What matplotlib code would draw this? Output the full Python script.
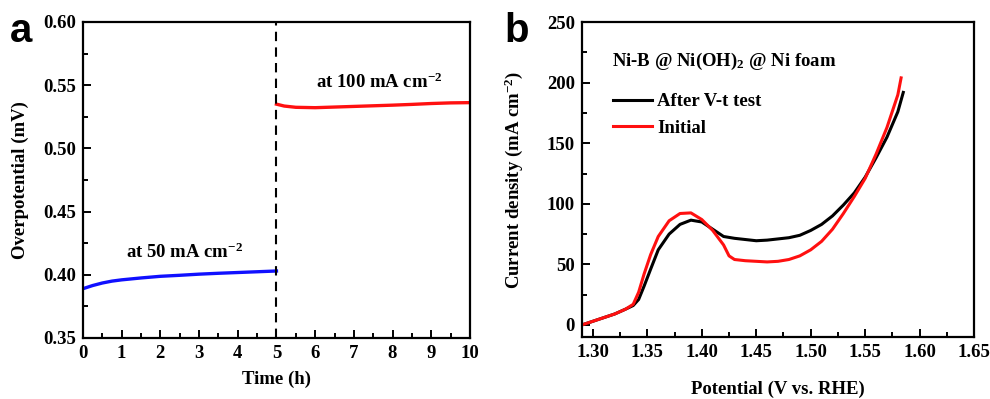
import numpy as np
import matplotlib
matplotlib.use("Agg")
import matplotlib.pyplot as plt
from matplotlib.ticker import MultipleLocator

# Panel a: overpotential vs time (chronopotentiometry)
TIME_LOW = [0.0, 0.1, 0.25, 0.5, 0.75, 1.0, 1.5, 2.0, 2.5, 3.0, 3.5, 4.0, 4.5, 5.0]
ETA_LOW = [0.389, 0.390, 0.3915, 0.3935, 0.395, 0.396, 0.3975, 0.3988, 0.3996, 0.4005,
           0.4012, 0.4018, 0.4024, 0.4030]
TIME_HIGH = [5.0, 5.2, 5.5, 6.0, 6.5, 7.0, 7.5, 8.0, 8.5, 9.0, 9.5, 10.0]
ETA_HIGH = [0.535, 0.5335, 0.5325, 0.5322, 0.5327, 0.5332, 0.5337, 0.5342, 0.5348,
            0.5355, 0.5360, 0.5362]

# Panel b: polarization curves
E_AFTER = [1.290, 1.300, 1.310, 1.320, 1.330, 1.337, 1.342, 1.347, 1.353, 1.360, 1.370,
           1.380, 1.390, 1.400, 1.410, 1.420, 1.430, 1.440, 1.450, 1.460, 1.470, 1.480,
           1.490, 1.500, 1.510, 1.520, 1.530, 1.540, 1.550, 1.560, 1.570, 1.580, 1.585]
J_AFTER = [0, 3, 6, 9, 13, 16, 21, 32, 46, 62, 75, 83, 86.5, 85, 79, 73, 71.5, 70.5, 69.5,
           70, 71, 72, 74, 78, 83, 90, 99, 109, 122, 138, 155, 176, 192]
E_INIT = [1.290, 1.300, 1.310, 1.320, 1.330, 1.337, 1.342, 1.347, 1.353, 1.360, 1.370,
          1.380, 1.390, 1.400, 1.410, 1.420, 1.425, 1.430, 1.440, 1.450, 1.460, 1.470,
          1.480, 1.490, 1.500, 1.510, 1.520, 1.530, 1.540, 1.550, 1.560, 1.570, 1.580,
          1.583]
J_INIT = [0, 3, 6, 9, 13, 17, 27, 42, 58, 73, 86, 92, 92.5, 87, 78, 66, 57, 54, 53, 52.5,
          52, 52.5, 54, 57, 62, 69, 79, 92, 106, 121, 141, 163, 190, 204]

plt.rcParams['font.family'] = 'Liberation Serif'
plt.rcParams['font.weight'] = 'bold'
plt.rcParams['mathtext.fontset'] = 'custom'
plt.rcParams['mathtext.rm'] = 'Liberation Serif:bold'
plt.rcParams['mathtext.it'] = 'Liberation Serif:bold'
plt.rcParams['mathtext.bf'] = 'Liberation Serif:bold'
plt.rcParams['mathtext.default'] = 'rm'
plt.rcParams['axes.linewidth'] = 1.6

FS = 13.5

fig = plt.figure(figsize=(9.9, 3.99), dpi=100)
ax1 = fig.add_axes([0.0838, 0.1529, 0.3909, 0.792])
ax2 = fig.add_axes([0.5879, 0.1554, 0.396, 0.789])


def style_axes(ax):
    ax.tick_params(which='both', direction='in', top=False, right=False,
                   labelsize=FS, width=1.4, pad=5)
    ax.tick_params(which='major', length=6)
    ax.tick_params(which='minor', length=3.5)
    for lbl in ax.get_xticklabels() + ax.get_yticklabels():
        lbl.set_fontweight('bold')


# --- panel a ---
ax1.plot(TIME_LOW, ETA_LOW, color='#1010ff', lw=2.4)
ax1.plot(TIME_HIGH, ETA_HIGH, color='#ff1010', lw=2.4)
ax1.axvline(5, color='black', lw=1.5, ls=(0, (4.5, 3)))
ax1.set_xlim(0, 10)
ax1.set_ylim(0.35, 0.60)
ax1.xaxis.set_major_locator(MultipleLocator(1))
ax1.xaxis.set_minor_locator(MultipleLocator(0.5))
ax1.yaxis.set_major_locator(MultipleLocator(0.05))
ax1.yaxis.set_minor_locator(MultipleLocator(0.025))
ax1.yaxis.set_major_formatter(plt.FormatStrFormatter('%.2f'))
ax1.set_xlabel('Time (h)', fontsize=FS, fontweight='bold', labelpad=6)
ax1.set_ylabel('Overpotential (mV)', fontsize=FS, fontweight='bold', labelpad=10)
ax1.text(1.1, 0.413, r'at 50 mA cm$^{-2}$', fontsize=FS, fontweight='bold',
         ha='left', va='baseline')
ax1.text(6.02, 0.548, r'at 100 mA cm$^{-2}$', fontsize=FS, fontweight='bold',
         ha='left', va='baseline')
style_axes(ax1)

# --- panel b ---
ax2.plot(E_AFTER, J_AFTER, color='black', lw=2.2, label='After V-t test')
ax2.plot(E_INIT, J_INIT, color='#ff1010', lw=2.2, label='Initial')
ax2.set_xlim(1.29, 1.65)
ax2.set_ylim(-10, 250)
ax2.xaxis.set_major_locator(MultipleLocator(0.05))
ax2.xaxis.set_minor_locator(MultipleLocator(0.025))
ax2.yaxis.set_major_locator(MultipleLocator(50))
ax2.yaxis.set_minor_locator(MultipleLocator(25))
ax2.xaxis.set_major_formatter(plt.FormatStrFormatter('%.2f'))
ax2.set_xlabel('Potential (V vs. RHE)', fontsize=FS, fontweight='bold', labelpad=14)
ax2.set_ylabel(r'Current density (mA cm$^{-2}$)', fontsize=FS, fontweight='bold',
               labelpad=16)
ax2.text(0.077, 0.862, r'Ni-B @ Ni(OH)$_2$ @ Ni foam', transform=ax2.transAxes,
         fontsize=FS, fontweight='bold', ha='left', va='baseline')
ax2.legend(loc='upper left', bbox_to_anchor=(0.079, 0.775), frameon=False,
           borderpad=0, borderaxespad=0, handlelength=2.1,
           handletextpad=0.25, labelspacing=0.5, prop={'weight': 'bold', 'size': FS})
style_axes(ax2)

# panel letters
fig.text(0.010, 0.895, 'a', fontsize=29, family='Liberation Sans', ha='left', va='baseline')
fig.text(0.510, 0.895, 'b', fontsize=29, family='Liberation Sans', ha='left', va='baseline')

fig.savefig('out.png', dpi=100)
